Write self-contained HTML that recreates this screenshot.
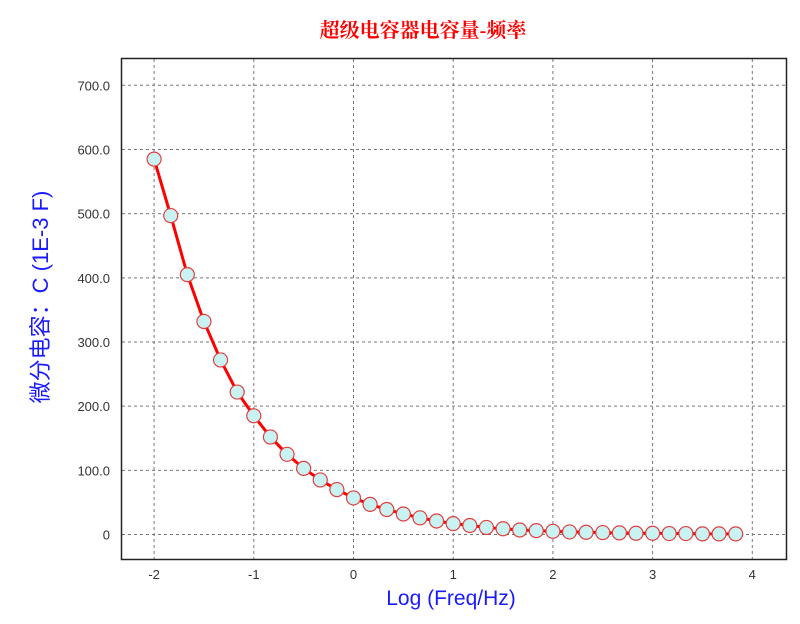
<!DOCTYPE html>
<html><head><meta charset="utf-8"><style>
html,body{margin:0;padding:0;background:#fff;width:800px;height:624px;overflow:hidden}
</style></head><body>
<svg id="s" width="800" height="624" xmlns="http://www.w3.org/2000/svg" font-family="Liberation Sans, sans-serif">
<rect x="0" y="0" width="800" height="624" fill="#fff"/>
<text x="423" y="37" text-anchor="middle" font-family="Liberation Serif, Noto Serif CJK SC, serif" font-size="20" font-weight="bold" fill="#f00">超级电容器电容量-频率</text>
<g id="grid" stroke="#777" stroke-width="1" stroke-dasharray="3,3"></g>
<rect x="121.5" y="58.5" width="665" height="501" fill="none" stroke="#222" stroke-width="1.5"/>
<g id="ticks" font-size="13" fill="#333"></g>
<polyline id="line" fill="none" stroke="#f00" stroke-width="3" stroke-linejoin="round"/>
<g id="pts" fill="#c9f3f3" stroke="#e04040" stroke-width="1.2"></g>
<text x="451" y="605" text-anchor="middle" font-size="21" fill="#1a1aff">Log (Freq/Hz)</text>
<text transform="translate(48,297) rotate(-90)" text-anchor="middle" font-size="22" fill="#1a1aff" font-family="Liberation Sans, Noto Sans CJK SC, sans-serif">微分电容：C (1E-3 F)</text>
</svg>
<script>
var ns="http://www.w3.org/2000/svg";
function X(v){return 353.5+v*99.7}
function Y(v){return 534.5-v*0.6417}
function el(p,t,a,txt){var e=document.createElementNS(ns,t);for(var k in a)e.setAttribute(k,a[k]);if(txt!=null)e.textContent=txt;document.getElementById(p).appendChild(e);return e}
for(var i=-2;i<=4;i++){el("grid","line",{x1:X(i),x2:X(i),y1:59,y2:559});
 el("ticks","text",{x:X(i),y:579,"text-anchor":"middle"},String(i));}
for(var j=0;j<=7;j++){var y=Y(j*100);el("grid","line",{x1:122,x2:786,y1:y,y2:y});
 el("ticks","text",{x:110,y:y+5,"text-anchor":"end"},j==0?"0":(j*100).toFixed(1));}
var d=[585,497,405,332,272,222,185,152,125,103,85,70,57,47,39,32,26,21,17,14,11,9,7,6,5,4,3.5,3,2.5,2,2,1.5,1.5,1,1,1];
var pts=[];
for(var k=0;k<d.length;k++){var x=X(-2+k/6),y=Y(d[k]);pts.push(x+","+y);}
document.getElementById("line").setAttribute("points",pts.join(" "));
for(var k=0;k<d.length;k++){el("pts","circle",{cx:X(-2+k/6),cy:Y(d[k]),r:7});}
</script>
</body></html>
